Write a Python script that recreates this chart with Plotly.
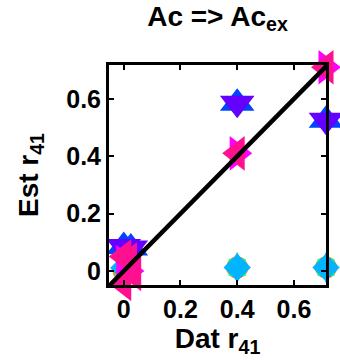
import plotly.graph_objects as go

# data values
circ_x = [0.0, 0.4, 0.713]
circ_y = [0.0, 0.012, 0.012]
sq_x = [0.0, 0.4, 0.713]
sq_y = [0.0, 0.012, 0.012]
dia_x = [0.0, 0.4, 0.713]
dia_y = [0.01, 0.012, 0.012]
up_x = [0.0, 0.025, 0.4, 0.713]
up_y = [0.085, 0.08, 0.585, 0.525]
down_x = [0.0, 0.025, 0.4, 0.713]
down_y = [0.085, 0.08, 0.585, 0.525]
right_x = [0.0, 0.02, 0.4, 0.713]
right_y = [0.03, 0.0, 0.41, 0.71]
left_x = [0.0, 0.02, 0.035, 0.0, 0.4, 0.713]
left_y = [0.05, 0.04, -0.01, -0.045, 0.41, 0.71]
diag = [-0.06, 0.75]

x_ticks = [0, 0.2, 0.4, 0.6]
y_ticks = [0, 0.2, 0.4, 0.6]
tick_text = ["0", "0.2", "0.4", "0.6"]

FONT = "Liberation Sans, Arial, sans-serif"

fig = go.Figure()

def add(xs, ys, symbol, color, size):
    fig.add_trace(go.Scatter(x=xs, y=ys, mode="markers", cliponaxis=False,
                             marker=dict(symbol=symbol, color=color, size=size,
                                         line=dict(width=0))))

add(circ_x, circ_y, "circle", "#FF8C00", 22)
add(sq_x, sq_y, "square", "#00FFA0", 17)
add(dia_x, dia_y, "diamond", "#00B4FF", 21)
add(dia_x, dia_y, "diamond-tall", "#00B4FF", 22)
add(up_x, up_y, "triangle-up", "#0044FF", 30)
add(down_x, down_y, "triangle-down", "#6400FF", 30)
add(right_x, right_y, "triangle-right", "#FF00FF", 30)
add(left_x, left_y, "triangle-left", "#FF1090", 30)

fig.add_trace(go.Scatter(x=diag, y=diag, mode="lines",
                         line=dict(color="black", width=4.5)))

axis_common = dict(showgrid=False, zeroline=False, showline=True, linecolor="black",
                   linewidth=3, mirror="allticks", ticks="inside", ticklen=5,
                   tickwidth=1.5, tickcolor="black",
                   tickfont=dict(family=FONT, size=25, color="black", weight="bold"))

fig.update_xaxes(range=[-0.052, 0.713], tickvals=x_ticks, ticktext=tick_text,
                 title=dict(text="Dat r<sub>41</sub>", standoff=5,
                            font=dict(family=FONT, size=28, color="black", weight="bold")),
                 **axis_common)
fig.update_yaxes(range=[-0.049, 0.718], tickvals=y_ticks, ticktext=tick_text,
                 title=dict(text="Est r<sub>41</sub>", standoff=20,
                            font=dict(family=FONT, size=28, color="black", weight="bold")),
                 **axis_common)

fig.update_layout(
    width=340, height=360,
    margin=dict(l=109, r=11, t=65, b=75),
    plot_bgcolor="white", paper_bgcolor="white",
    showlegend=False,
    title=dict(text="Ac => Ac<sub>ex</sub>", x=0.5, xref="paper", xanchor="center",
               y=1 - 6 / 360, yanchor="top",
               font=dict(family=FONT, size=28, color="black", weight="bold")),
)

fig.write_html("out.html")
